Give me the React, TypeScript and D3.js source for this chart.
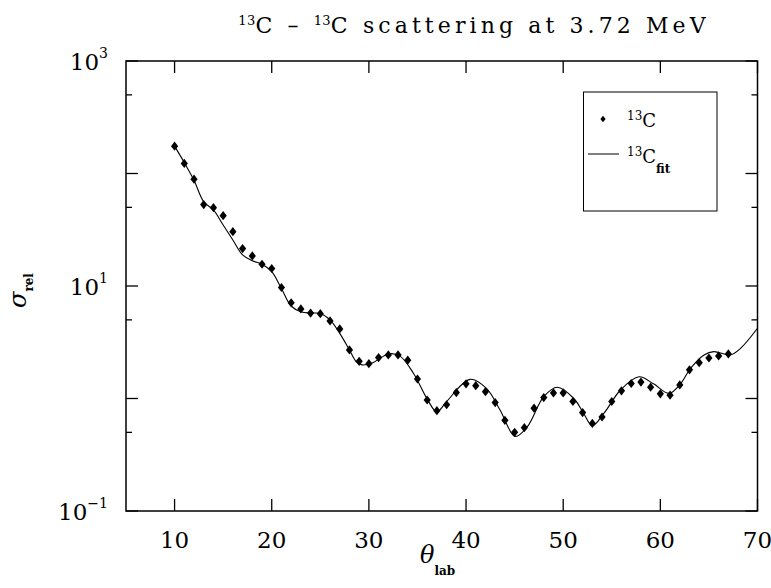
import React from "react";
import * as d3 from "d3";

const thetaData = [10,11,12,13,14,15,16,17,18,19,20,21,22,23,24,25,26,27,28,29,30,31,32,33,34,35,36,37,38,39,40,41,42,43,44,45,46,47,48,49,50,51,52,53,54,55,56,57,58,59,60,61,62,63,64,65,66,67];
const sigmaData = [175,123,89,52.9,49.7,42.2,30.4,21.5,18.5,15.6,14.3,9.7,7.1,6.25,5.75,5.68,4.89,4.15,2.7,2.14,2.04,2.31,2.44,2.44,2.19,1.49,0.97,0.78,0.88,1.13,1.35,1.3,1.15,0.92,0.64,0.5,0.55,0.82,1.02,1.12,1.12,0.94,0.75,0.6,0.685,0.94,1.17,1.36,1.4,1.26,1.1,1.07,1.32,1.8,2.08,2.29,2.39,2.49];

const fitTheta = [10,11,12,13,14,15,16,17,18,19,20,21,22,23,24,25,26,27,28,28.7,29.3,30.4,32,33.2,34.6,36,37,38,40.4,42.1,43.5,45.05,46.3,48,49.4,51.1,52.1,53,54.2,55.9,57.8,59.3,60.9,62.1,63.1,64.5,65.5,67.2,68.25,70];
const fitSigma = [175,125,87,56,47.4,34.8,25.6,18.9,16.8,15.6,13.4,9.5,6.64,5.9,5.75,5.7,4.99,3.79,2.7,2.12,1.99,2.08,2.49,2.38,1.67,0.99,0.76,0.94,1.48,1.23,0.79,0.46,0.56,1.04,1.26,1.0,0.74,0.574,0.74,1.19,1.56,1.35,1.11,1.36,1.85,2.44,2.61,2.44,2.79,4.21];

const xTicks = [10,20,30,40,50,60,70];
const yMajor = [0.1,1,10,100,1000];
const yMinor = [0.5,5,50,500];
const yLabels = [{v:0.1,e:"−1"},{v:10,e:"1"},{v:1000,e:"3"}];

const W = 771, H = 588;
const L = 126, R = 757.5, T = 61, B = 511;
const FONT = "'DejaVu Serif', serif";

export default function App() {
  const x = d3.scaleLinear().domain([5,70]).range([L,R]);
  const y = d3.scaleLog().domain([0.1,1000]).range([B,T]);
  const line = d3.line<number>()
    .x((_, i) => x(fitTheta[i]))
    .y((d) => y(d))
    .curve(d3.curveCatmullRom.alpha(0.5));
  const diamond = (cx: number, cy: number, hw: number, hh: number) =>
    `M${cx},${cy-hh}L${cx+hw},${cy}L${cx},${cy+hh}L${cx-hw},${cy}Z`;

  return (
    <svg width={W} height={H} style={{position:"absolute",left:0,top:0,background:"#fff"}} fontFamily={FONT}>
      <rect x={0} y={0} width={W} height={H} fill="#fff"/>
      {/* title */}
      <text x={474} y={33} textAnchor="middle" fontSize={22} letterSpacing={4.1} fill="#000">
        <tspan fontSize={13} letterSpacing={0.3} dy={-8}>13</tspan><tspan dy={8}>C – </tspan>
        <tspan fontSize={13} letterSpacing={0.3} dy={-8}>13</tspan><tspan dy={8}>C scattering at 3.72 MeV</tspan>
      </text>
      {/* ticks */}
      {xTicks.map(t => (
        <g key={"xt"+t}>
          <line x1={x(t)} x2={x(t)} y1={B} y2={B-12} stroke="#000" strokeWidth={1.3}/>
          <line x1={x(t)} x2={x(t)} y1={T} y2={T+12} stroke="#000" strokeWidth={1.3}/>
          <text x={x(t)} y={548} textAnchor="middle" fontSize={23} fill="#000">{t}</text>
        </g>
      ))}
      {yMajor.map(v => (
        <g key={"ym"+v}>
          <line x1={L} x2={L+12} y1={y(v)} y2={y(v)} stroke="#000" strokeWidth={1.3}/>
          <line x1={R} x2={R-12} y1={y(v)} y2={y(v)} stroke="#000" strokeWidth={1.3}/>
        </g>
      ))}
      {yMinor.map(v => (
        <g key={"yn"+v}>
          <line x1={L} x2={L+6} y1={y(v)} y2={y(v)} stroke="#000" strokeWidth={1.3}/>
          <line x1={R} x2={R-6} y1={y(v)} y2={y(v)} stroke="#000" strokeWidth={1.3}/>
        </g>
      ))}
      {yLabels.map(l => (
        <text key={"yl"+l.v} x={108} y={y(l.v)+9} textAnchor="end" fontSize={23} fill="#000">
          10<tspan fontSize={14} dy={-12}>{l.e}</tspan>
        </text>
      ))}
      {/* frame */}
      <rect x={L} y={T} width={R-L} height={B-T} fill="none" stroke="#000" strokeWidth={1.5}/>
      {/* fit */}
      <path d={line(fitSigma) || ""} fill="none" stroke="#000" strokeWidth={1.1}/>
      {/* data */}
      {thetaData.map((t, i) => (
        <path key={"p"+t} d={diamond(x(t), y(sigmaData[i]), 3.6, 4.6)} fill="#000"/>
      ))}
      {/* axis labels */}
      <text x={420} y={563} fontSize={24} fontStyle="italic" fill="#000">θ<tspan fontSize={12} fontStyle="normal" fontWeight="bold" dy={12}>lab</tspan></text>
      <g transform="translate(26,308) rotate(-90)">
        <text x={0} y={0} fontSize={24} fontStyle="italic" fill="#000">σ<tspan fontSize={12} fontStyle="normal" fontWeight="bold" dy={7}>rel</tspan></text>
      </g>
      {/* legend */}
      <rect x={583.5} y={92} width={133.5} height={119} fill="#fff" stroke="#000" strokeWidth={1}/>
      <path d={diamond(603, 119, 2.6, 3.2)} fill="#000"/>
      <text x={627} y={127} fontSize={18} fill="#000"><tspan fontSize={12} dy={-7}>13</tspan><tspan dy={7}>C</tspan></text>
      <line x1={588} x2={619} y1={154} y2={154} stroke="#000" strokeWidth={1}/>
      <text x={627} y={163} fontSize={18} fill="#000"><tspan fontSize={12} dy={-7}>13</tspan><tspan dy={7}>C</tspan><tspan fontSize={12} fontWeight="bold" dy={10}>fit</tspan></text>
    </svg>
  );
}
